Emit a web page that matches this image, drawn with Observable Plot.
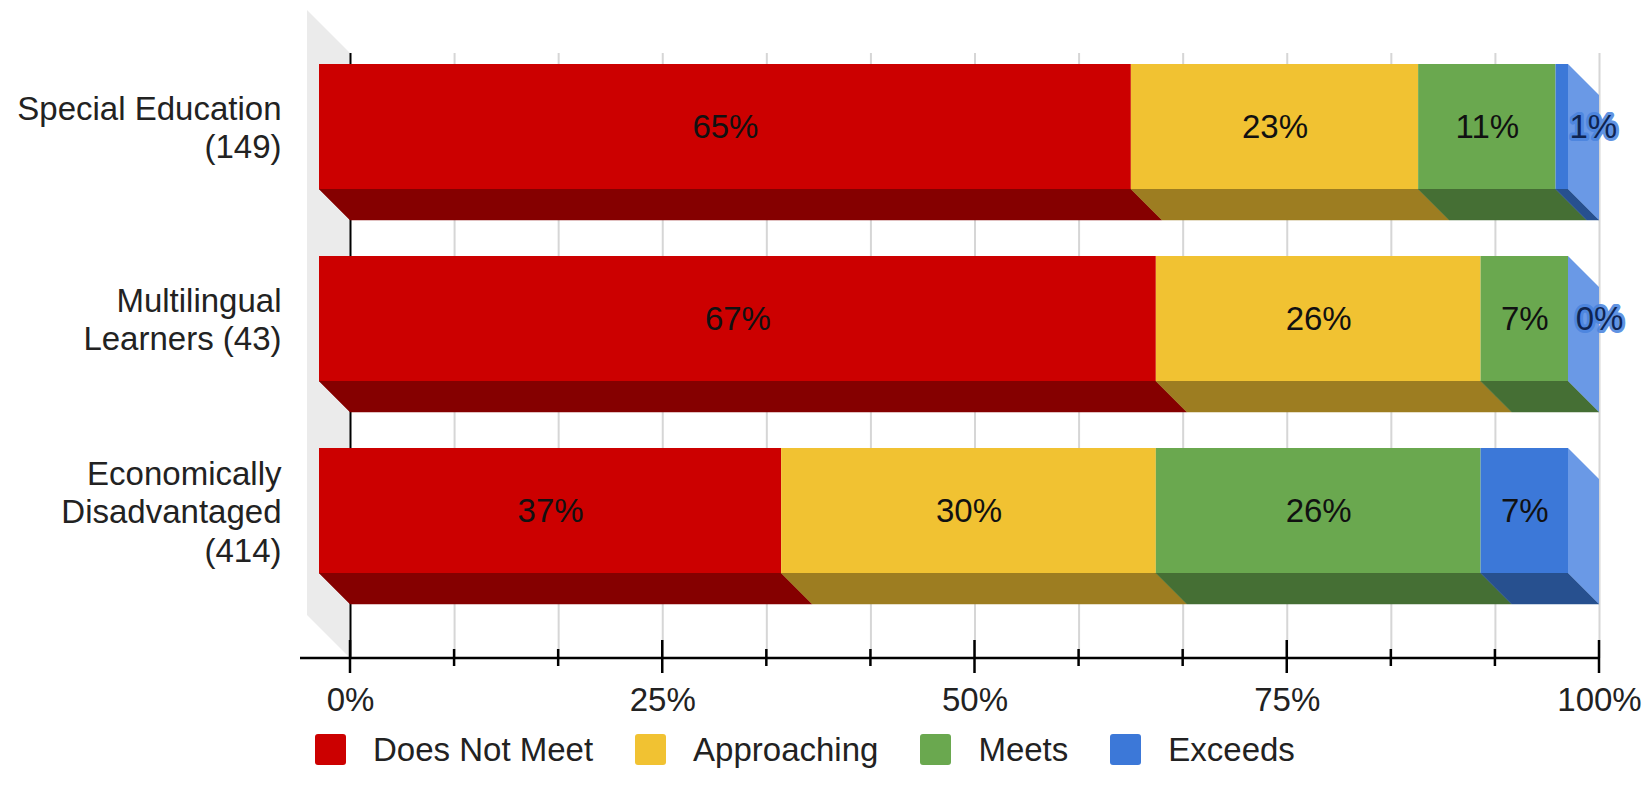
<!DOCTYPE html>
<html>
<head>
<meta charset="utf-8">
<script src="https://cdn.jsdelivr.net/npm/d3@7"></script>
<script src="https://cdn.jsdelivr.net/npm/@observablehq/plot@0.6"></script>
<style>
  body { margin: 0; min-height: 797px; background: #fff; font-family: "Liberation Sans", Arial, sans-serif; }
  #chart svg { display: block; }
  .legend { display: flex; align-items: center; margin: 6px 0 0 315px; height: 31px; font-size: 33px; line-height: 38px; color: #222; }
  .legend .item { display: flex; align-items: center; margin-right: 42px; }
  .legend .sw { width: 31px; height: 31px; border-radius: 3px; margin-right: 27px; }
</style>
</head>
<body>
<div id="chart"></div>
<div id="legend" class="legend"></div>
<script>
// Student groups (with counts) and performance levels
const groups = ["Special Education\n(149)", "Multilingual\nLearners (43)", "Economically\nDisadvantaged\n(414)"];
const levels = ["Does Not Meet", "Approaching", "Meets", "Exceeds"];

// Percent of each group at each level
const doesNotMeet = [65, 67, 37];
const approaching = [23, 26, 30];
const meets = [11, 7, 26];
const exceeds = [1, 0, 7];

// Axis tick labels (percent)
const majorTicks = [0, 25, 50, 75, 100];
const tickSteps = 12;

// Face colours: front, shaded bottom, and the lit right-hand end
const frontColors = ["#cc0000", "#f1c232", "#6aa84f", "#3c78d8"];
const bottomColors = ["#850000", "#9d7d21", "#456f34", "#27508f"];
const endColor = "#6a99e6";

const D = 31;      // bar depth, px
const WALL = 43;   // depth of the side wall, px
const FONT = 33;

const series = [doesNotMeet, approaching, meets, exceeds];
const rows = [];
groups.forEach((group, gi) => {
  let acc = 0;
  levels.forEach((level, li) => {
    const value = series[li][gi];
    rows.push({group, level, li, value, x1: acc, x2: acc + value});
    acc += value;
  });
});
const totals = groups.map(g => d3.sum(rows.filter(r => r.group === g), r => r.value));
const gridTicks = d3.range(tickSteps + 1).map(i => (i * 100) / tickSteps);

// Left side wall of the 3D box
function wall(index, {x}, values, {height, marginTop, marginBottom}) {
  const x0 = x(0), top = marginTop, bottom = height - marginBottom;
  const g = d3.create("svg:g");
  g.append("path")
    .attr("fill", "#ebebeb")
    .attr("d", `M${x0 - WALL},${top - WALL}L${x0},${top}L${x0},${bottom}L${x0 - WALL},${bottom - WALL}Z`);
  return g.node();
}

// Axis line with crossing major and minor ticks
function axisLine(index, {x}, values, {height, marginBottom}) {
  const y0 = height - marginBottom;
  const g = d3.create("svg:g").attr("stroke", "#000").attr("stroke-width", 2.5);
  g.append("line").attr("x1", x(0) - 50).attr("x2", x(100)).attr("y1", y0).attr("y2", y0);
  for (const t of gridTicks) {
    const major = majorTicks.some(m => Math.abs(m - t) < 1e-6);
    g.append("line")
      .attr("x1", x(t)).attr("x2", x(t))
      .attr("y1", y0 - (major ? 18 : 9))
      .attr("y2", y0 + (major ? 15 : 8));
  }
  return g.node();
}

// Shaded bottom faces of each segment and the lit end of each bar
function depthFaces(index, {x, y}) {
  const g = d3.create("svg:g");
  const bw = y.bandwidth();
  for (const r of rows) {
    const yb = y(r.group) + bw;
    const a = x(r.x1), b = x(r.x2);
    if (b - a <= 0) continue;
    g.append("path")
      .attr("fill", bottomColors[r.li])
      .attr("stroke", bottomColors[r.li])
      .attr("stroke-width", 0.5)
      .attr("d", `M${a - D},${yb - D}L${b - D},${yb - D}L${b},${yb}L${a},${yb}Z`);
  }
  groups.forEach((group, gi) => {
    const yt = y(group), yb = yt + bw, b = x(totals[gi]);
    g.append("path")
      .attr("fill", endColor)
      .attr("d", `M${b - D},${yt - D}L${b},${yt}L${b},${yb}L${b - D},${yb - D}Z`);
  });
  return g.node();
}

const chart = Plot.plot({
  width: 1646,
  height: 728,
  marginLeft: 350,
  marginRight: 47,
  marginTop: 53,
  marginBottom: 70,
  style: {fontFamily: "'Liberation Sans', Arial, sans-serif", fontSize: `${FONT}px`, color: "#222", background: "#fff"},
  x: {domain: [0, 100], axis: null},
  y: {domain: groups, range: [94, 606], paddingInner: 0.347, paddingOuter: 0, axis: null},
  color: {domain: levels, range: frontColors},
  marks: [
    wall,
    Plot.ruleX(gridTicks.slice(1), {stroke: "#d6d6d6", strokeWidth: 2}),
    Plot.ruleX([0], {stroke: "#000", strokeWidth: 2}),
    axisLine,
    Plot.text(majorTicks, {x: d => d, text: d => `${d}%`, frameAnchor: "bottom", dy: 52, fontSize: FONT, fill: "#222"}),
    Plot.text(groups, {y: d => d, text: d => d, frameAnchor: "left", textAnchor: "end", dx: -69, dy: -D, fontSize: FONT, lineHeight: 1.16, fill: "#222"}),
    depthFaces,
    Plot.barX(rows, {x1: "x1", x2: "x2", y: "group", fill: "level", dx: -D, dy: -D}),
    Plot.text(rows.filter(r => r.value >= 3), {
      x: r => (r.x1 + r.x2) / 2, y: "group", text: r => `${r.value}%`,
      dx: -D, dy: -D, fontSize: FONT, fill: "#111"
    }),
    Plot.text(rows.filter(r => r.value < 3), {
      x: r => (r.x1 + r.x2) / 2, y: "group", text: r => `${r.value}%`,
      dx: 0, dy: -D, fontSize: FONT, fill: "#0e2452", stroke: "#4a84de", strokeWidth: 6, strokeOpacity: 0.9
    })
  ]
});

document.getElementById("chart").append(chart);

const legend = d3.select("#legend");
levels.forEach((level, i) => {
  const item = legend.append("div").attr("class", "item");
  item.append("div").attr("class", "sw").style("background", frontColors[i]);
  item.append("span").text(level);
});
</script>
</body>
</html>
